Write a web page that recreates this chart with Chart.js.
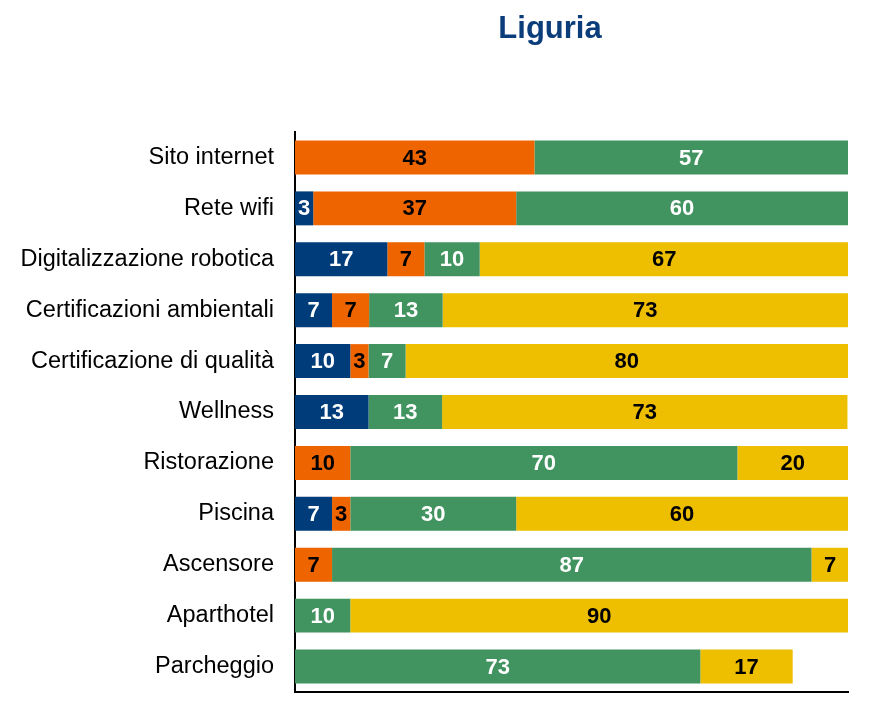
<!DOCTYPE html>
<html>
<head>
<meta charset="utf-8">
<script src="https://cdn.jsdelivr.net/npm/chart.js@4.4.1/dist/chart.umd.min.js"></script>
<style>
  html, body { margin: 0; padding: 0; background: #ffffff; }
  #wrap { position: relative; width: 870px; height: 706px; }
  #title { position: absolute; left: 450px; width: 200px; top: 10px; text-align: center;
           font: bold 31px "Liberation Sans", Arial, sans-serif; color: #0B3D7B; }
</style>
</head>
<body>
<div id="wrap">
  <canvas id="c" width="870" height="706"></canvas>
  <div id="title">Liguria</div>
</div>
<script>
const categories = ["Sito internet", "Rete wifi", "Digitalizzazione robotica", "Certificazioni ambientali",
  "Certificazione di qualità", "Wellness", "Ristorazione", "Piscina", "Ascensore", "Aparthotel", "Parcheggio"];
const seriesNames = ["Serie 1", "Serie 2", "Serie 3", "Serie 4"];
const blueValues   = [0,    3.3,  16.7, 6.7,  10,  13.3, 0,  6.7, 0,    0,  0];
const orangeValues = [43.3, 36.7, 6.7,  6.7,  3.3, 0,    10, 3.3, 6.7,  0,  0];
const greenValues  = [56.7, 60,   10,   13.3, 6.7, 13.3, 70, 30,  86.7, 10, 73.3];
const yellowValues = [0,    0,    66.7, 73.3, 80,  73.3, 20, 60,  6.7,  90, 16.7];
const seriesColors = ["#003B7A", "#EE6500", "#419360", "#EEBE00"];
const labelColors  = ["#ffffff", "#000000", "#ffffff", "#000000"];
const xMin = 0, xMax = 100;

const allValues = [blueValues, orangeValues, greenValues, yellowValues];

const barLabels = {
  id: 'barLabels',
  afterDatasetsDraw(chart) {
    const ctx = chart.ctx;
    ctx.save();
    ctx.font = 'bold 22px "Liberation Sans", Arial, sans-serif';
    ctx.textAlign = 'center';
    ctx.textBaseline = 'middle';
    chart.data.datasets.forEach((ds, di) => {
      const meta = chart.getDatasetMeta(di);
      meta.data.forEach((el, i) => {
        const v = ds.data[i];
        if (!v) return;
        const p = el.getCenterPoint();
        ctx.fillStyle = labelColors[di];
        ctx.fillText(String(Math.round(v)), p.x, p.y + 1);
      });
    });
    ctx.restore();
  }
};

new Chart(document.getElementById('c'), {
  type: 'bar',
  data: {
    labels: categories,
    datasets: allValues.map((vals, i) => ({
      label: seriesNames[i],
      data: vals,
      backgroundColor: seriesColors[i],
      borderWidth: 0,
      barPercentage: 0.667,
      categoryPercentage: 1.0
    }))
  },
  options: {
    indexAxis: 'y',
    responsive: false,
    animation: false,
    layout: { padding: { top: 132, right: 22, bottom: 13, left: 0 } },
    plugins: { legend: { display: false }, tooltip: { enabled: false }, title: { display: false } },
    scales: {
      x: {
        stacked: true, min: xMin, max: xMax,
        grid: { display: false, drawTicks: false },
        ticks: { display: false },
        border: { display: true, color: '#000000', width: 2 },
        afterFit(s) { s.height = 1; s.paddingLeft = 0; s.paddingRight = 0; }
      },
      y: {
        stacked: true,
        grid: { display: false, drawTicks: false },
        ticks: { color: '#000000', padding: 21, font: { size: 23.5, family: '"Liberation Sans", Arial, sans-serif' } },
        border: { display: true, color: '#000000', width: 2 },
        afterFit(s) { s.width = 295; s.paddingTop = 0; s.paddingBottom = 0; }
      }
    }
  },
  plugins: [barLabels]
});
</script>
</body>
</html>
